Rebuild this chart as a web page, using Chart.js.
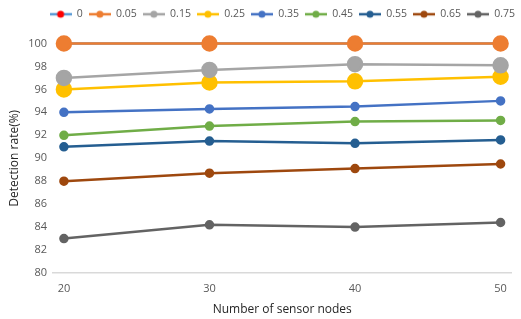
<!DOCTYPE html>
<html>
<head>
<meta charset="utf-8">
<script src="https://cdn.jsdelivr.net/npm/chart.js@4"></script>
<style>
  html, body { margin: 0; padding: 0; background: #fff; }
  #wrap { width: 521px; height: 319px; }
</style>
</head>
<body>
<div id="wrap"><canvas id="myChart" width="521" height="319"></canvas></div>
<script>
// x values (number of sensor nodes)
var nodes = [20, 30, 40, 50];

// one series per rate
var seriesNames = ['0', '0.05', '0.15', '0.25', '0.35', '0.45', '0.55', '0.65', '0.75'];
var rate0    = [100, 100, 100, 100];
var rate005  = [100, 100, 100, 100];
var rate015  = [97, 97.7, 98.2, 98.1];
var rate025  = [96, 96.6, 96.7, 97.1];
var rate035  = [94, 94.3, 94.5, 95];
var rate045  = [92, 92.8, 93.2, 93.3];
var rate055  = [91, 91.5, 91.3, 91.6];
var rate065  = [88, 88.7, 89.1, 89.5];
var rate075  = [83, 84.2, 84, 84.4];

var yTicks = [80, 82, 84, 86, 88, 90, 92, 94, 96, 98, 100];

var values = [rate0, rate005, rate015, rate025, rate035, rate045, rate055, rate065, rate075];
var lineColors = ['#5B9BD5', '#ED7D31', '#A5A5A5', '#FFC000', '#4472C4', '#70AD47', '#255E91', '#9E480E', '#636363'];
var dotColors  = ['#FF0000', '#ED7D31', '#A5A5A5', '#FFC000', '#4472C4', '#70AD47', '#255E91', '#9E480E', '#636363'];
var radii      = [3.5, 7, 7, 7, 3.5, 3.5, 3.5, 3.5, 3.5];

// small legend icon: line with a dot
function legendIcon(lineColor, dotColor) {
    var c = document.createElement('canvas');
    c.width = 22; c.height = 10;
    var g = c.getContext('2d');
    g.strokeStyle = lineColor;
    g.lineWidth = 2.5;
    g.beginPath(); g.moveTo(0, 5); g.lineTo(22, 5); g.stroke();
    g.fillStyle = dotColor;
    g.beginPath(); g.arc(11, 5, 3.5, 0, Math.PI * 2); g.fill();
    return c;
}

var datasets = seriesNames.map(function(name, i) {
    return {
        label: name,
        data: nodes.map(function(n, j) { return {x: n, y: values[i][j]}; }),
        borderColor: lineColors[i],
        backgroundColor: dotColors[i],
        pointBackgroundColor: dotColors[i],
        pointBorderColor: dotColors[i],
        pointRadius: radii[i],
        pointHoverRadius: radii[i],
        borderWidth: 2.5,
        tension: 0,
        clip: false,
        order: i == 0 ? 1 : 0,
        icon: legendIcon(lineColors[i], dotColors[i])
    };
});

// extra room under the legend, legend nudged a bit right/down
var legendSpace = {
    id: 'legendSpace',
    afterInit: function(chart) {
        var lg = chart.legend;
        if (!lg) return;
        var f = lg.fit;
        lg.fit = function() { f.call(this); this.height += 17; };
        var d = lg.draw;
        lg.draw = function() {
            var ctx = this.ctx;
            ctx.save();
            ctx.translate(6, 3);
            d.call(this);
            ctx.restore();
        };
    }
};

var tickFont = {family: 'Open Sans', size: 11};

new Chart('myChart', {
    type: 'line',
    data: { datasets: datasets },
    plugins: [legendSpace],
    options: {
        responsive: false,
        animation: false,
        layout: { padding: { left: 7, right: 6, top: 0, bottom: 0 } },
        plugins: {
            tooltip: { enabled: false },
            legend: {
                position: 'top',
                align: 'end',
                labels: {
                    usePointStyle: true,
                    pointStyleWidth: 22,
                    padding: 6,
                    color: '#595959',
                    font: {family: 'Open Sans', size: 10.5},
                    generateLabels: function(chart) {
                        return chart.data.datasets.map(function(ds, i) {
                            return {
                                text: ds.label,
                                pointStyle: ds.icon,
                                fillStyle: ds.borderColor,
                                strokeStyle: ds.borderColor,
                                lineWidth: 0,
                                fontColor: '#595959',
                                hidden: false,
                                datasetIndex: i
                            };
                        });
                    }
                }
            }
        },
        scales: {
            x: {
                type: 'linear',
                min: 19.25,
                max: 50.75,
                afterBuildTicks: function(s) { s.ticks = nodes.map(function(v) { return {value: v}; }); },
                afterFit: function(s) { s.height = 46; },
                grid: { display: false, drawTicks: false },
                border: { display: true, color: '#D9D9D9', width: 1.5 },
                ticks: { color: '#595959', font: tickFont, padding: 9 },
                title: {
                    display: true,
                    text: 'Number of sensor nodes',
                    color: '#262626',
                    font: {family: 'Open Sans', size: 12},
                    padding: { top: 0, bottom: 2 }
                }
            },
            y: {
                min: 80,
                max: 100,
                afterBuildTicks: function(s) { s.ticks = yTicks.map(function(v) { return {value: v}; }); },
                afterFit: function(s) { s.width = 46; },
                grid: { display: false, drawTicks: false },
                border: { display: false },
                ticks: { color: '#595959', font: tickFont, padding: 6 },
                title: {
                    display: true,
                    text: 'Detection rate(%)',
                    color: '#262626',
                    font: {family: 'Open Sans', size: 12},
                    padding: 0
                }
            }
        }
    }
});
</script>
</body>
</html>
